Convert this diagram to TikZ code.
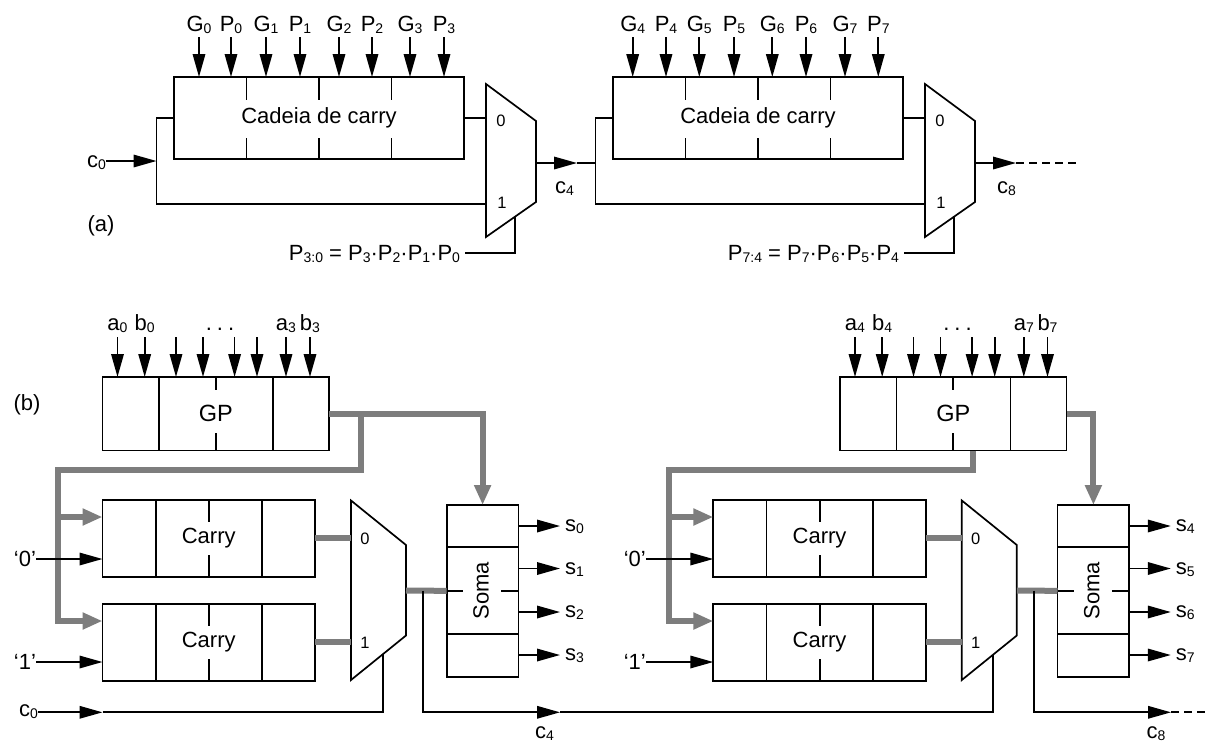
\documentclass[tikz,border=0pt]{standalone}
\usepackage{fontspec}
\setmainfont{Liberation Sans}
\usetikzlibrary{arrows.meta}
\definecolor{busgray}{RGB}{125,125,125}
\newcommand{\sbs}[1]{\raisebox{-2pt}{\fontsize{14}{14}\selectfont #1}}
\tikzset{
  txt/.style={font=\fontsize{22}{26}\selectfont, inner sep=0pt, outer sep=0pt},
  muxlbl/.style={font=\fontsize{16.5}{18}\selectfont, inner sep=0pt, outer sep=0pt},
  wire/.style={line width=1.7pt, draw=black},
  blk/.style={draw=black, line width=1.7pt, rectangle, inner sep=0pt, outer sep=0pt, font=\fontsize{22}{26}\selectfont},
  arr/.style={wire, -{Triangle[length=23pt,width=12.5pt]}},
  bus/.style={line width=6pt, draw=busgray},
  busarr/.style={bus, -{Triangle[length=20pt,width=16pt]}},
  dashline/.style={wire, dash pattern=on 8pt off 5pt},
}
\begin{document}
\begin{tikzpicture}[x=1pt,y=-1pt]
\useasboundingbox (0,0) rectangle (1208,748);
\fill[white] (0,0) rectangle (1208,748);

% =================== (a) ===================
% ---- block 1
\node[blk, minimum width=290pt, minimum height=82pt] (cc1) at (319,118) {Cadeia de carry};
\foreach \x in {246.5,319,391.5}{
  \draw[wire] (\x,77) -- (\x,100) (\x,138) -- (\x,159);
}
\foreach \x/\l/\n [count=\i] in {199/G/0,231/P/0,266/G/1,300/P/1,339/G/2,372/P/2,410/G/3,444/P/3}{
  \node[txt, anchor=base] (ga\i) at (\x,31) {\l\sbs{\n}};
  \coordinate (gs\i) at (\x,37);
  \coordinate (ge\i) at (\x,77);
  \draw[arr] (gs\i) -- (ge\i);
}
\coordinate (m1tl) at (486,84);
\coordinate (m1tr) at (536,121);
\coordinate (m1br) at (536,202);
\coordinate (m1bl) at (486,237);
\draw[wire] (m1tl) -- (m1tr) -- (m1br) -- (m1bl) -- cycle;
\coordinate (m1i0) at (486,118);
\coordinate (m1i1) at (486,204);
\coordinate (m1o) at (536,163);
\coordinate (m1s) at (515,216.7);
\node[muxlbl] (m1l0) at (501,121) {0};
\node[muxlbl] (m1l1) at (502,203) {1};

\coordinate (j1t) at (156.5,118);
\coordinate (j1m) at (156.5,161);
\coordinate (j1b) at (156.5,204);
\node[txt, anchor=base east] (c0a) at (106,167) {c\sbs{0}};
\coordinate (c0as) at (106,161);
\draw[arr] (c0as) -- (j1m);
\draw[wire] (cc1.west) -- (j1t) -- (j1b) -- (m1i1);
\draw[wire] (cc1.east) -- (m1i0);

\coordinate (c4t) at (577,163);
\coordinate (j2t) at (595.5,118);
\coordinate (j2m) at (595.5,163);
\coordinate (j2b) at (595.5,204);
\draw[arr] (m1o) -- (c4t);
\draw[wire] (c4t) -- (j2m);
\node[txt, anchor=base west] (c4a) at (555,193) {c\sbs{4}};

\coordinate (s1c) at (515,253);
\coordinate (s1e) at (465,253);
\draw[wire] (m1s) -- (s1c) -- (s1e);
\node[txt, anchor=base east] (p30) at (460,260) {P\sbs{3:0} = P\sbs{3}·P\sbs{2}·P\sbs{1}·P\sbs{0}};
\node[txt] (la) at (101,226) {(a)};

% ---- block 2
\node[blk, minimum width=290pt, minimum height=82pt] (cc2) at (758,118) {Cadeia de carry};
\foreach \x in {685.5,758,830.5}{
  \draw[wire] (\x,77) -- (\x,100) (\x,138) -- (\x,159);
}
\foreach \x/\l/\n [count=\i] in {632.7/G/4,666/P/4,699.3/G/5,734/P/5,772.3/G/6,806/P/6,845/G/7,878.3/P/7}{
  \node[txt, anchor=base] (gb\i) at (\x,31) {\l\sbs{\n}};
  \coordinate (hs\i) at (\x,37);
  \coordinate (he\i) at (\x,77);
  \draw[arr] (hs\i) -- (he\i);
}
\coordinate (m2tl) at (925,84);
\coordinate (m2tr) at (975,121);
\coordinate (m2br) at (975,202);
\coordinate (m2bl) at (925,237);
\draw[wire] (m2tl) -- (m2tr) -- (m2br) -- (m2bl) -- cycle;
\coordinate (m2i0) at (925,118);
\coordinate (m2i1) at (925,204);
\coordinate (m2o) at (975,163);
\coordinate (m2s) at (954,216.7);
\node[muxlbl] (m2l0) at (940,121) {0};
\node[muxlbl] (m2l1) at (941,203) {1};
\draw[wire] (cc2.west) -- (j2t) -- (j2b) -- (m2i1);
\draw[wire] (cc2.east) -- (m2i0);

\coordinate (c8t) at (1016,163);
\coordinate (c8e) at (1080,163);
\draw[arr] (m2o) -- (c8t);
\draw[dashline] (c8t) -- (c8e);
\node[txt, anchor=base west] (c8a) at (997,193) {c\sbs{8}};

\coordinate (s2c) at (954,253);
\coordinate (s2e) at (904,253);
\draw[wire] (m2s) -- (s2c) -- (s2e);
\node[txt, anchor=base east] (p74) at (899,260) {P\sbs{7:4} = P\sbs{7}·P\sbs{6}·P\sbs{5}·P\sbs{4}};

% =================== (b) ===================
\node[txt] (lb) at (27,405) {(b)};

% ---- left half: boxes
\node[blk, minimum width=226.5pt, minimum height=73.5pt, font=\fontsize{23.5}{26}\selectfont] (gpL) at (215.75,413.75) {GP};
\draw[wire] (159,377) -- (159,450.5) (273,377) -- (273,450.5) (216,377) -- (216,390) (216,433) -- (216,450.5);
\foreach \x [count=\i] in {117.5,144.7,176,203,234.6,257,286,310}{
  \coordinate (abLs\i) at (\x,337);
  \coordinate (abLe\i) at (\x,377);
  \draw[arr] (abLs\i) -- (abLe\i);
}
\node[txt, anchor=base] (a0) at (117.5,330) {a\sbs{0}};
\node[txt, anchor=base] (b0) at (144.7,330) {b\sbs{0}};
\node[txt, anchor=base] (dL) at (220,330) {.\hspace{5pt}.\hspace{5pt}.};
\node[txt, anchor=base] (a3) at (286,330) {a\sbs{3}};
\node[txt, anchor=base] (b3) at (310,330) {b\sbs{3}};

\node[blk, minimum width=212.5pt, minimum height=76.7pt] (cyL1) at (208.75,538.35) {Carry};
\node[blk, minimum width=212.5pt, minimum height=76.7pt] (cyL2) at (208.75,642.35) {Carry};
\draw[wire] (155.7,500) -- (155.7,576.7) (262.3,500) -- (262.3,576.7) (209.3,500) -- (209.3,521.7) (209.3,555) -- (209.3,576.7);
\draw[wire] (155.7,604) -- (155.7,680.7) (262.3,604) -- (262.3,680.7) (209.3,604) -- (209.3,625.7) (209.3,659) -- (209.3,680.7);

\coordinate (mLtl) at (351,500.5);
\coordinate (mLtr) at (406,545);
\coordinate (mLbr) at (406,635.5);
\coordinate (mLbl) at (351,680);
\draw[wire] (mLtl) -- (mLtr) -- (mLbr) -- (mLbl) -- cycle;
\coordinate (mL0) at (351,538.35);
\coordinate (mL1) at (351,642.35);
\coordinate (mLo) at (406,590.5);
\coordinate (mLs) at (383.3,653.9);
\node[muxlbl] (mLl0) at (365,539) {0};
\node[muxlbl] (mLl1) at (365,643) {1};

\node[blk, minimum width=71.8pt, minimum height=171.7pt] (soL) at (482.6,590.85) {};
\node[txt, rotate=90] (soLt) at (481,590.85) {Soma};
\draw[wire] (446.7,546.7) -- (518.5,546.7) (446.7,634) -- (518.5,634) (446.7,590.85) -- (463.3,590.85) (501,590.85) -- (518.5,590.85);

% ---- right half: boxes
\node[blk, minimum width=226.5pt, minimum height=73.5pt, font=\fontsize{23.5}{26}\selectfont] (gpR) at (953.25,413.75) {GP};
\draw[wire] (896.5,377) -- (896.5,450.5) (1010.5,377) -- (1010.5,450.5) (953,377) -- (953,390) (953,433) -- (953,450.5);
\foreach \x [count=\i] in {855,882.2,913.5,940.5,972.1,994.7,1023.8,1047.5}{
  \coordinate (abRs\i) at (\x,337);
  \coordinate (abRe\i) at (\x,377);
  \draw[arr] (abRs\i) -- (abRe\i);
}
\node[txt, anchor=base] (a4) at (855,330) {a\sbs{4}};
\node[txt, anchor=base] (b4) at (882.2,330) {b\sbs{4}};
\node[txt, anchor=base] (dR) at (957.5,330) {.\hspace{5pt}.\hspace{5pt}.};
\node[txt, anchor=base] (a7) at (1023.8,330) {a\sbs{7}};
\node[txt, anchor=base] (b7) at (1047.5,330) {b\sbs{7}};

\node[blk, minimum width=212.5pt, minimum height=76.7pt] (cyR1) at (819.55,538.35) {Carry};
\node[blk, minimum width=212.5pt, minimum height=76.7pt] (cyR2) at (819.55,642.35) {Carry};
\draw[wire] (766.5,500) -- (766.5,576.7) (873.1,500) -- (873.1,576.7) (820.1,500) -- (820.1,521.7) (820.1,555) -- (820.1,576.7);
\draw[wire] (766.5,604) -- (766.5,680.7) (873.1,604) -- (873.1,680.7) (820.1,604) -- (820.1,625.7) (820.1,659) -- (820.1,680.7);

\coordinate (mRtl) at (961.8,500.5);
\coordinate (mRtr) at (1016.8,545);
\coordinate (mRbr) at (1016.8,635.5);
\coordinate (mRbl) at (961.8,680);
\draw[wire] (mRtl) -- (mRtr) -- (mRbr) -- (mRbl) -- cycle;
\coordinate (mR0) at (961.8,538.35);
\coordinate (mR1) at (961.8,642.35);
\coordinate (mRo) at (1016.8,590.5);
\coordinate (mRs) at (993.3,654.5);
\node[muxlbl] (mRl0) at (975.8,539) {0};
\node[muxlbl] (mRl1) at (975.8,643) {1};

\node[blk, minimum width=71.8pt, minimum height=171.7pt] (soR) at (1093.4,590.85) {};
\node[txt, rotate=90] (soRt) at (1091.8,590.85) {Soma};
\draw[wire] (1057.5,546.7) -- (1129.3,546.7) (1057.5,634) -- (1129.3,634) (1057.5,590.85) -- (1074.1,590.85) (1111.8,590.85) -- (1129.3,590.85);

% ---- grey buses
\coordinate (bL0) at (360.5,413.75);
\coordinate (bL1) at (360.5,470);
\coordinate (bL2) at (58,470);
\coordinate (bL3) at (58,621);
\coordinate (bL4) at (58,517);
\draw[busarr] (gpL.east) -| (soL.north);
\draw[busarr] (bL0) -- (bL1) -- (bL2) -- (bL3) -- (cyL2.west |- bL3);
\draw[busarr] (bL4) -- (cyL1.west |- bL4);
\draw[bus] (cyL1.east) -- (mL0);
\draw[bus] (cyL2.east) -- (mL1);
\draw[bus] (mLo) -- (soL.west);

\coordinate (bR0) at (973,450.5);
\coordinate (bR1) at (973,470);
\coordinate (bR2) at (668.8,470);
\coordinate (bR3) at (668.8,621);
\coordinate (bR4) at (668.8,517);
\draw[busarr] (gpR.east) -| (soR.north);
\draw[busarr] (bR0) -- (bR1) -- (bR2) -- (bR3) -- (cyR2.west |- bR3);
\draw[busarr] (bR4) -- (cyR1.west |- bR4);
\draw[bus] (cyR1.east) -- (mR0);
\draw[bus] (cyR2.east) -- (mR1);
\draw[bus] (mRo) -- (soR.west);

% ---- thin inputs / outputs (left)
\node[txt, anchor=east] (q0L) at (36,559) {‘0’};
\coordinate (q0Ls) at (36,559);
\draw[arr] (q0Ls) -- (cyL1.west |- q0Ls);
\node[txt, anchor=east] (q1L) at (36,662) {‘1’};
\coordinate (q1Ls) at (36,662);
\draw[arr] (q1Ls) -- (cyL2.west |- q1Ls);

\foreach \y/\n [count=\i] in {526/0,568.5/1,612/2,655/3}{
  \coordinate (sLs\i) at (518.5,\y);
  \coordinate (sLe\i) at (560,\y);
  \draw[arr] (sLs\i) -- (sLe\i);
  \node[txt, anchor=base west] (sL\i) at (565,{\y+5.7}) {s\sbs{\n}};
}

\node[txt, anchor=base east] (c0b) at (38,716.5) {c\sbs{0}};
\coordinate (c0bs) at (38,712.3);
\coordinate (c0bt) at (102.5,712.3);
\coordinate (c0bc) at (383.3,712.3);
\draw[arr] (c0bs) -- (c0bt);
\draw[wire] (c0bt) -- (c0bc) -- (mLs);

\coordinate (kL) at (423.3,590.5);
\coordinate (kLb) at (423.3,712.3);
\coordinate (c4bt) at (560,712.3);
\coordinate (c4bc) at (993.3,712.3);
\draw[arr] (kL) -- (kLb) -- (c4bt);
\draw[wire] (c4bt) -- (c4bc) -- (mRs);
\node[txt, anchor=base west] (c4b) at (535,738.3) {c\sbs{4}};

% ---- thin inputs / outputs (right)
\node[txt, anchor=east] (q0R) at (645.8,559) {‘0’};
\coordinate (q0Rs) at (645.8,559);
\draw[arr] (q0Rs) -- (cyR1.west |- q0Rs);
\node[txt, anchor=east] (q1R) at (645.8,662) {‘1’};
\coordinate (q1Rs) at (645.8,662);
\draw[arr] (q1Rs) -- (cyR2.west |- q1Rs);

\foreach \y/\n [count=\i] in {526/4,568.5/5,612/6,655/7}{
  \coordinate (sRs\i) at (1129.3,\y);
  \coordinate (sRe\i) at (1170.8,\y);
  \draw[arr] (sRs\i) -- (sRe\i);
  \node[txt, anchor=base west] (sR\i) at (1175.8,{\y+5.7}) {s\sbs{\n}};
}

\coordinate (kR) at (1034.1,590.5);
\coordinate (kRb) at (1034.1,712.3);
\coordinate (c8bt) at (1171,712.3);
\coordinate (c8be) at (1208,712.3);
\draw[arr] (kR) -- (kRb) -- (c8bt);
\draw[dashline] (c8bt) -- (c8be);
\node[txt, anchor=base west] (c8b) at (1146.7,738.3) {c\sbs{8}};
\end{tikzpicture}
\end{document}
